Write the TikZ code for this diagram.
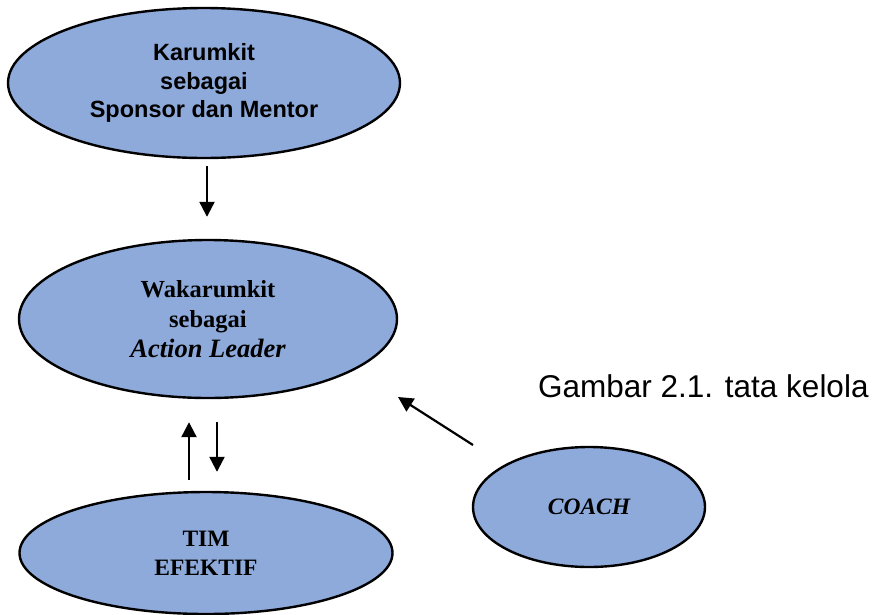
\documentclass[tikz,border=0pt]{standalone}
\usepackage{fontspec}
\setmainfont{Liberation Serif}
\newfontfamily\arialfont{Liberation Sans}
\usetikzlibrary{shapes.geometric,arrows.meta}

\definecolor{bubble}{HTML}{8EAADB}

\tikzset{
  bubble/.style={ellipse, draw=black, line width=2.4pt, fill=bubble,
    inner sep=0pt, align=center, text=black},
  flow/.style={line width=2.2pt, -{Triangle[length=15pt,width=15pt]}},
  sanslabel/.style={font=\arialfont\bfseries\fontsize{23.5}{28.5}\selectfont},
  seriflabel/.style={font=\rmfamily\bfseries\fontsize{24.5}{30}\selectfont},
}

\begin{document}
\begin{tikzpicture}[x=1pt, y=-1pt]
  \useasboundingbox (0,0) rectangle (873,614);

  % the four role ellipses
  \node[bubble, sanslabel, minimum width=392pt, minimum height=150pt]
    (kar) at (204,83) {Karumkit\\sebagai\\Sponsor dan Mentor};
  \node[bubble, seriflabel, minimum width=378pt, minimum height=158pt]
    (wak) at (208,319) {Wakarumkit\\sebagai\\{\fontsize{26.5}{30}\selectfont\itshape Action Leader}};
  \node[bubble, minimum width=373pt, minimum height=122pt,
    font=\rmfamily\bfseries\fontsize{23.5}{29}\selectfont]
    (tim) at (206,553) {TIM\\EFEKTIF};
  \node[bubble, minimum width=232pt, minimum height=120pt,
    font=\rmfamily\bfseries\itshape\fontsize{23.5}{29}\selectfont]
    (coach) at (589,507) {COACH};

  % caption text
  \node[anchor=base west, inner sep=0pt, font=\arialfont\fontsize{31.5}{38}\selectfont]
    (caption) at (538,397) {Gambar 2.1. tata kelola};

  % connectors
  \draw[flow, shorten <=7pt, shorten >=22pt]
    ([xshift=3pt]kar.south) -- ([xshift=-1pt]wak.north);
  \draw[flow, shorten <=11pt, shorten >=23pt]
    ([xshift=-17pt]tim.north) -- ([xshift=-19pt]wak.south);
  \draw[flow, shorten <=23pt, shorten >=19pt]
    ([xshift=9pt]wak.south) -- ([xshift=11pt]tim.north);

  \coordinate (coachtail) at (473,445);
  \coordinate (coachhead) at (398,397);
  \draw[flow] (coachtail) -- (coachhead);
\end{tikzpicture}
\end{document}
